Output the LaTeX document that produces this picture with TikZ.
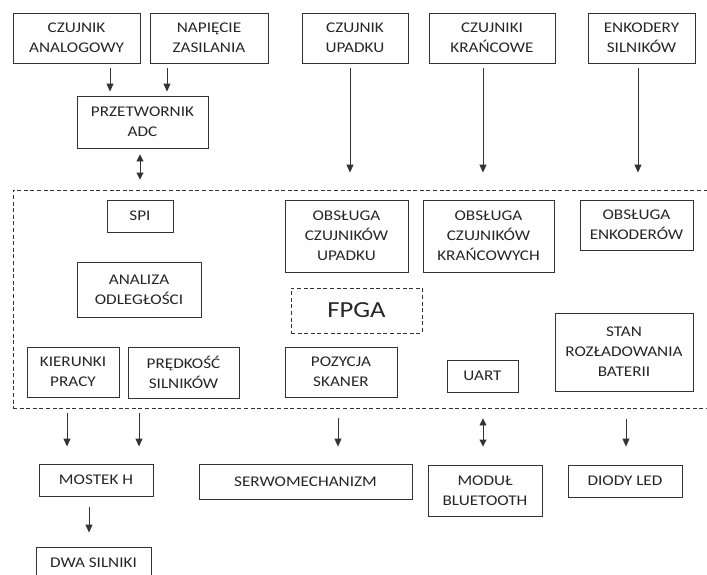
\documentclass[tikz,border=0pt]{standalone}
\usepackage{fontspec}
\setmainfont{Carlito}[FakeStretch=1.16]
\usetikzlibrary{arrows.meta}
\definecolor{ln}{HTML}{333333}
\definecolor{tx}{HTML}{262626}
\begin{document}
\begin{tikzpicture}[x=1pt,y=-1pt,
  box/.style={draw=ln, line width=0.9pt, align=center, inner sep=0pt, text=tx,
    font=\fontsize{14.8}{20}\selectfont},
  dbox/.style={box, dashed, dash pattern=on 4pt off 2.6pt},
  arr/.style={draw=ln, line width=0.9pt, -{Triangle[width=7pt,length=8pt]}},
  darr/.style={draw=ln, line width=0.9pt, {Triangle[width=7pt,length=7pt]}-{Triangle[width=7pt,length=7pt]}}
]
\useasboundingbox (0,0) rectangle (707,574);
% top row
\node[box, minimum width=127pt, minimum height=50pt] (ana) at (76.5,38) {CZUJNIK\\ANALOGOWY};
\node[box, minimum width=118pt, minimum height=50pt] (nap) at (209,38) {NAPIĘCIE\\ZASILANIA};
\node[box, minimum width=106pt, minimum height=50pt] (upa) at (355,38) {CZUJNIK\\UPADKU};
\node[box, minimum width=126pt, minimum height=50pt] (kra) at (492,38) {CZUJNIKI\\KRAŃCOWE};
\node[box, minimum width=107pt, minimum height=50pt] (enk) at (641.5,38) {ENKODERY\\SILNIKÓW};
\node[box, minimum width=131pt, minimum height=52pt] (adc) at (142.5,122) {PRZETWORNIK\\ADC};
% FPGA frame
\node[dbox, minimum width=697pt, minimum height=218pt] (frame) at (361.5,299) {};
\node[box, minimum width=66pt, minimum height=32pt] (spi) at (140,216) {SPI};
\node[box, minimum width=124pt, minimum height=55pt] (odl) at (139,289.5) {ANALIZA\\ODLEGŁOŚCI};
\node[box, minimum width=92pt, minimum height=50pt] (kie) at (73,372) {KIERUNKI\\PRACY};
\node[box, minimum width=111pt, minimum height=51pt] (pre) at (183.5,372.5) {PRĘDKOŚĆ\\SILNIKÓW};
\node[box, minimum width=123pt, minimum height=72pt] (obu) at (346.5,236) {OBSŁUGA\\CZUJNIKÓW\\UPADKU};
\node[box, minimum width=131pt, minimum height=72pt] (obk) at (488.5,236) {OBSŁUGA\\CZUJNIKÓW\\KRAŃCOWYCH};
\node[box, minimum width=113pt, minimum height=50pt] (obe) at (636.5,225) {OBSŁUGA\\ENKODERÓW};
\node[dbox, minimum width=131pt, minimum height=45pt, font=\fontsize{23}{26}\selectfont] (fpga) at (356.5,310.5) {FPGA};
\node[box, minimum width=112pt, minimum height=50pt] (poz) at (341,372) {POZYCJA\\SKANER};
\node[box, minimum width=71pt, minimum height=32pt] (uart) at (482.5,376) {UART};
\node[box, minimum width=138pt, minimum height=78pt] (stan) at (624,352) {STAN\\ROZŁADOWANIA\\BATERII};
% bottom row
\node[box, minimum width=114pt, minimum height=32pt] (mos) at (96,480) {MOSTEK H};
\node[box, minimum width=213pt, minimum height=35pt] (ser) at (305.5,481.5) {SERWOMECHANIZM};
\node[box, minimum width=114pt, minimum height=51pt] (blu) at (485,490.5) {MODUŁ\\BLUETOOTH};
\node[box, minimum width=114pt, minimum height=32pt] (led) at (625,481) {DIODY LED};
\node[box, minimum width=115pt, minimum height=32pt] (dwa) at (93.5,563) {DWA SILNIKI};
% arrows in
\draw[arr, shorten <=5pt, shorten >=4pt] ([xshift=33.5pt]ana.south) -- ([xshift=33.5pt]ana.south |- adc.north);
\draw[arr, shorten <=5pt, shorten >=4pt] ([xshift=-42pt]nap.south) -- ([xshift=-42pt]nap.south |- adc.north);
\draw[darr, shorten <=6pt, shorten >=10pt] ([xshift=-2.5pt]adc.south) -- ([xshift=-2.5pt]adc.south |- frame.north);
\draw[arr, shorten <=5pt, shorten >=17pt] ([xshift=-5pt]upa.south) -- ([xshift=-5pt]upa.south |- frame.north);
\draw[arr, shorten <=5pt, shorten >=17pt] ([xshift=-9pt]kra.south) -- ([xshift=-9pt]kra.south |- frame.north);
\draw[arr, shorten <=5pt, shorten >=17pt] ([xshift=-3.5pt]enk.south) -- ([xshift=-3.5pt]enk.south |- frame.north);
% arrows out
\draw[arr, shorten <=5pt, shorten >=17pt] ([xshift=-29pt]mos.north |- frame.south) -- ([xshift=-29pt]mos.north);
\draw[arr, shorten <=5pt, shorten >=17pt] ([xshift=43pt]mos.north |- frame.south) -- ([xshift=43pt]mos.north);
\draw[arr, shorten <=10pt, shorten >=17pt] ([xshift=32.5pt]ser.north |- frame.south) -- ([xshift=32.5pt]ser.north);
\draw[darr, shorten <=10pt, shorten >=18pt] ([xshift=-2pt]blu.north |- frame.south) -- ([xshift=-2pt]blu.north);
\draw[arr, shorten <=11pt, shorten >=18pt] ([xshift=1pt]led.north |- frame.south) -- ([xshift=1pt]led.north);
\draw[arr, shorten <=11pt, shorten >=14pt] ([xshift=-7pt]mos.south) -- ([xshift=-7pt]mos.south |- dwa.north);
\end{tikzpicture}
\end{document}
